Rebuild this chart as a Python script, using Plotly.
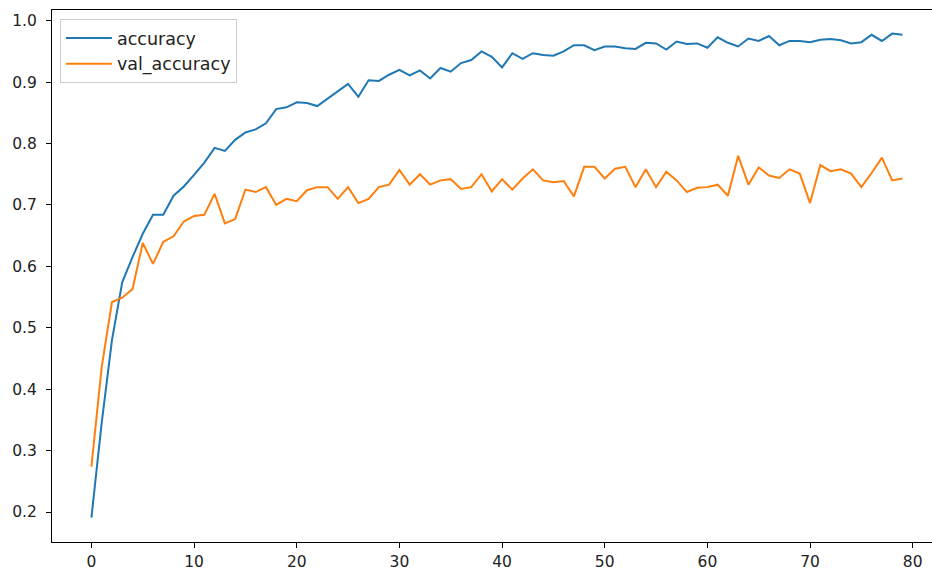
import plotly.graph_objects as go

# Training history per epoch
epochs = list(range(80))

accuracy = [
    0.191, 0.345, 0.480, 0.574, 0.615, 0.653, 0.684, 0.684, 0.715, 0.730,
    0.749, 0.769, 0.793, 0.788, 0.806, 0.818, 0.823, 0.833, 0.856, 0.859,
    0.867, 0.866, 0.861, 0.873, 0.884, 0.897, 0.876, 0.903, 0.902, 0.912,
    0.920, 0.911, 0.919, 0.906, 0.923, 0.917, 0.931, 0.936, 0.950, 0.941,
    0.924, 0.947, 0.938, 0.947, 0.944, 0.943, 0.950, 0.960, 0.960, 0.952,
    0.958, 0.958, 0.955, 0.954, 0.964, 0.963, 0.953, 0.966, 0.962, 0.963,
    0.956, 0.973, 0.964, 0.958, 0.971, 0.967, 0.975, 0.960, 0.967, 0.967,
    0.965, 0.969, 0.970, 0.968, 0.963, 0.965, 0.977, 0.967, 0.979, 0.977,
]

val_accuracy = [
    0.274, 0.436, 0.542, 0.549, 0.563, 0.638, 0.604, 0.640, 0.649, 0.673,
    0.682, 0.684, 0.718, 0.670, 0.677, 0.725, 0.721, 0.729, 0.700, 0.710,
    0.706, 0.724, 0.729, 0.729, 0.710, 0.729, 0.703, 0.710, 0.729, 0.733,
    0.757, 0.733, 0.750, 0.733, 0.740, 0.742, 0.726, 0.729, 0.750, 0.722,
    0.742, 0.725, 0.743, 0.758, 0.740, 0.737, 0.739, 0.714, 0.762, 0.762,
    0.743, 0.759, 0.762, 0.729, 0.758, 0.729, 0.754, 0.740, 0.721, 0.728,
    0.729, 0.733, 0.715, 0.780, 0.733, 0.761, 0.748, 0.744, 0.758, 0.751,
    0.703, 0.765, 0.755, 0.758, 0.751, 0.729, 0.752, 0.777, 0.740, 0.743,
]

x_ticks = [0, 10, 20, 30, 40, 50, 60, 70, 80]
y_ticks = [0.2, 0.3, 0.4, 0.5, 0.6, 0.7, 0.8, 0.9, 1.0]

FONT = "DejaVu Sans"
TEXT = "#222222"

fig = go.Figure()
fig.add_trace(go.Scatter(x=epochs, y=accuracy, mode="lines", name="accuracy",
                         line=dict(color="#1f77b4", width=2)))
fig.add_trace(go.Scatter(x=epochs, y=val_accuracy, mode="lines", name="val_accuracy",
                         line=dict(color="#ff7f0e", width=2)))

axis_common = dict(
    showgrid=False, zeroline=False, showline=True, linecolor="black", linewidth=1,
    ticks="outside", ticklen=5, tickwidth=1, tickcolor="black",
    tickfont=dict(family=FONT, size=15.5, color=TEXT),
)

fig.update_layout(
    width=932, height=574,
    margin=dict(l=52, r=0, t=10, b=32),
    paper_bgcolor="white", plot_bgcolor="white",
    font=dict(family=FONT, size=15.5, color=TEXT),
    xaxis=dict(range=[-3.84, 81.88], tickvals=x_ticks, mirror=True, **axis_common),
    yaxis=dict(range=[0.1512, 1.0174], tickvals=y_ticks, tickformat=".1f",
               ticklabelstandoff=6, **axis_common),
    legend=dict(x=0.009, y=0.983, xanchor="left", yanchor="top",
                bgcolor="rgba(255,255,255,0.8)", bordercolor="#cccccc", borderwidth=1,
                itemwidth=46,
                font=dict(family=FONT, size=17.5, color=TEXT)),
    showlegend=True,
)

fig.write_html("out.html")
